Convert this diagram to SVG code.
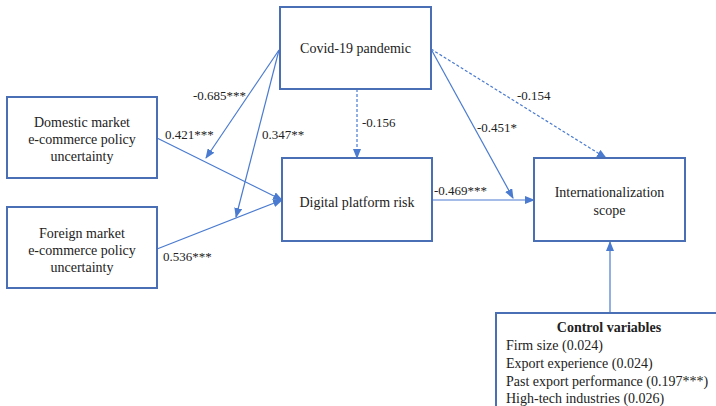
<svg xmlns="http://www.w3.org/2000/svg" width="716" height="406" viewBox="0 0 716 406">
<style>
.box{fill:#fff;stroke:#4a6fb5;stroke-width:2}
.t{font-family:'Liberation Serif','Times New Roman','DejaVu Serif',serif;font-size:14px;fill:#222}
.l{font-family:'Liberation Serif','Times New Roman','DejaVu Serif',serif;font-size:13px;fill:#222}
.c{stroke:#4a7bd0;stroke-width:1.2;fill:none}
.d{stroke-dasharray:3 2}
</style>
<defs>
<marker id="ah" markerWidth="10" markerHeight="8" refX="9" refY="4" orient="auto" markerUnits="userSpaceOnUse">
<path d="M0,0 L10,4 L0,8 Z" fill="#4a7bd0"/>
</marker>
</defs>
<rect width="716" height="406" fill="#fff"/>
<g id="connectors">
<line class="c" x1="279" y1="50" x2="206" y2="158" marker-end="url(#ah)"/>
<line class="c" x1="279" y1="50" x2="236" y2="217" marker-end="url(#ah)"/>
<line class="c" x1="157" y1="138" x2="282" y2="200" marker-end="url(#ah)"/>
<line class="c" x1="157" y1="249" x2="282" y2="200" marker-end="url(#ah)"/>
<line class="c d" x1="357" y1="89" x2="357" y2="158" marker-end="url(#ah)"/>
<line class="c" x1="432" y1="200" x2="534" y2="200" marker-end="url(#ah)"/>
<line class="c" x1="431" y1="49" x2="513" y2="198" marker-end="url(#ah)"/>
<line class="c d" x1="431" y1="49" x2="606" y2="158" marker-end="url(#ah)"/>
<line class="c" x1="610" y1="313" x2="610" y2="242" marker-end="url(#ah)"/>
<text class="l" x="193" y="100">-0.685***</text>
<text class="l" x="165" y="139">0.421***</text>
<text class="l" x="262" y="139">0.347**</text>
<text class="l" x="163" y="261">0.536***</text>
<text class="l" x="362" y="127">-0.156</text>
<text class="l" x="434" y="195">-0.469***</text>
<text class="l" x="477" y="132">-0.451*</text>
<text class="l" x="517" y="100">-0.154</text>
</g>
<g id="covid">
<rect class="box" x="280" y="7" width="151" height="82"/>
<text class="t" x="355.5" y="53" text-anchor="middle">Covid-19 pandemic</text>
</g>
<g id="domestic">
<rect class="box" x="7" y="97" width="150" height="81"/>
<text class="t" x="82" y="127" text-anchor="middle">Domestic market</text>
<text class="t" x="82" y="144" text-anchor="middle">e-commerce policy</text>
<text class="t" x="82" y="161" text-anchor="middle">uncertainty</text>
</g>
<g id="foreign">
<rect class="box" x="7" y="207" width="150" height="81"/>
<text class="t" x="82" y="238" text-anchor="middle">Foreign market</text>
<text class="t" x="82" y="255" text-anchor="middle">e-commerce policy</text>
<text class="t" x="82" y="272" text-anchor="middle">uncertainty</text>
</g>
<g id="digital">
<rect class="box" x="282" y="158" width="150" height="83"/>
<text class="t" x="357" y="207" text-anchor="middle">Digital platform risk</text>
</g>
<g id="intl">
<rect class="box" x="534" y="158" width="151" height="83"/>
<text class="t" x="609.5" y="197" text-anchor="middle">Internationalization</text>
<text class="t" x="609.5" y="215" text-anchor="middle">scope</text>
</g>
<g id="control">
<rect class="box" x="496" y="313" width="240" height="110"/>
<text class="t" x="609" y="332" text-anchor="middle" font-weight="bold">Control variables</text>
<text class="t" x="506" y="350">Firm size (0.024)</text>
<text class="t" x="506" y="368">Export experience (0.024)</text>
<text class="t" x="506" y="386">Past export performance (0.197***)</text>
<text class="t" x="506" y="403">High-tech industries (0.026)</text>
</g>
</svg>
